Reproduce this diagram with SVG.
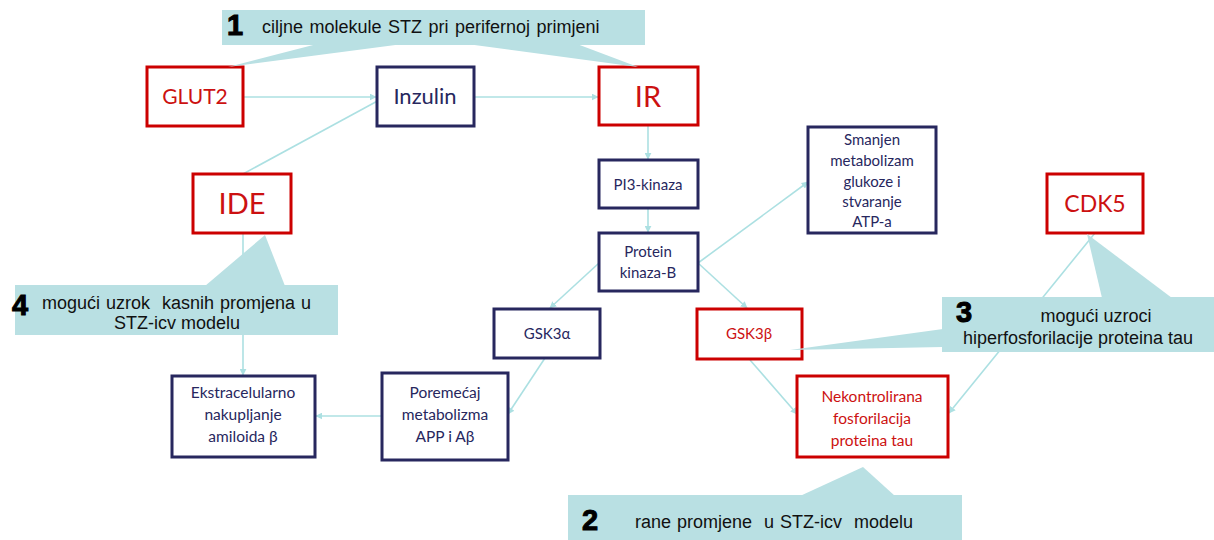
<svg xmlns="http://www.w3.org/2000/svg" width="1214" height="540" viewBox="0 0 1214 540">
<style>
.nb{fill:#fff;stroke:#27275e;stroke-width:3}
.rb{fill:#fff;stroke:#cc0000;stroke-width:3}
.nt{font-family:Lato,"Open Sans",sans-serif;fill:#27275e;text-anchor:middle}
.rt{font-family:Lato,"Open Sans",sans-serif;fill:#cc1111;text-anchor:middle}
.s{font-size:15px}
.m{font-size:15.5px}
.cl{fill:#b9e0e3}
.ct{font-family:"Liberation Sans",Arial,sans-serif;font-size:18px;fill:#111;white-space:pre}
.num{font-family:"Liberation Sans",Arial,sans-serif;font-size:29px;font-weight:900;fill:#000;stroke:#000;stroke-width:1}
.ln{fill:none;stroke:#ace0e2;stroke-width:1.6}
</style>
<defs>
<marker id="ah" viewBox="0 0 10 10" refX="9" refY="5" markerWidth="7" markerHeight="7" orient="auto" markerUnits="userSpaceOnUse">
<path d="M0,0 L10,5 L0,10 z" fill="#ace0e2"/>
</marker>
</defs>
<rect width="1214" height="540" fill="#fff"/>
<g id="connectors">
<line class="ln" x1="243" y1="97" x2="376" y2="97" marker-end="url(#ah)"/>
<line class="ln" x1="474" y1="97" x2="598" y2="97" marker-end="url(#ah)"/>
<line class="ln" x1="243" y1="174" x2="383" y2="98" marker-end="url(#ah)"/>
<line class="ln" x1="648" y1="125" x2="648" y2="159" marker-end="url(#ah)"/>
<line class="ln" x1="648" y1="208" x2="648" y2="232" marker-end="url(#ah)"/>
<line class="ln" x1="599" y1="263" x2="550" y2="308" marker-end="url(#ah)"/>
<line class="ln" x1="698" y1="263" x2="747" y2="308" marker-end="url(#ah)"/>
<line class="ln" x1="698" y1="263" x2="808" y2="182" marker-end="url(#ah)"/>
<line class="ln" x1="545" y1="358" x2="508" y2="414" marker-end="url(#ah)"/>
<line class="ln" x1="382" y1="416" x2="316" y2="416" marker-end="url(#ah)"/>
<line class="ln" x1="243" y1="233" x2="243" y2="375" marker-end="url(#ah)"/>
<line class="ln" x1="750" y1="360" x2="797" y2="414" marker-end="url(#ah)"/>
<line class="ln" x1="1095" y1="233" x2="949" y2="413" marker-end="url(#ah)"/>
</g>
<g id="GLUT2"><rect class="rb" x="147" y="67" width="96" height="59"/><text class="rt" x="195" y="104" font-size="21">GLUT2</text></g>
<g id="Inzulin"><rect class="nb" x="377" y="67" width="97" height="59"/><text class="nt" x="425" y="104" font-size="22">Inzulin</text></g>
<g id="IR"><rect class="rb" x="599" y="67" width="99" height="58"/><text class="rt" x="648" y="107" font-size="29">IR</text></g>
<g id="IDE"><rect class="rb" x="193" y="174" width="98" height="59"/><text class="rt" x="242" y="214" font-size="29">IDE</text></g>
<g id="PI3"><rect class="nb" x="599" y="160" width="99" height="48"/><text class="nt s" x="648" y="190">PI3-kinaza</text></g>
<g id="PKB"><rect class="nb" x="599" y="233" width="99" height="58"/><text class="nt s" x="648" y="257">Protein</text><text class="nt s" x="648" y="278">kinaza-B</text></g>
<g id="Smanjen"><rect class="nb" x="808" y="127" width="128" height="106"/>
<text class="nt s" x="872" y="145">Smanjen</text><text class="nt s" x="872" y="166">metabolizam</text><text class="nt s" x="872" y="187">glukoze i</text><text class="nt s" x="872" y="207">stvaranje</text><text class="nt s" x="872" y="227">ATP-a</text></g>
<g id="CDK5"><rect class="rb" x="1047" y="174" width="96" height="59"/><text class="rt" x="1095" y="212" font-size="23">CDK5</text></g>
<g id="GSK3a"><rect class="nb" x="494" y="309" width="106" height="49"/><text class="nt s" x="547" y="339">GSK3α</text></g>
<g id="GSK3b"><rect class="rb" x="697" y="309" width="105" height="50"/><text class="rt s" x="749" y="339">GSK3β</text></g>
<g id="Ekstracelularno"><rect class="nb" x="172" y="376" width="143" height="81"/>
<text class="nt m" x="243" y="398">Ekstracelularno</text><text class="nt m" x="243" y="420">nakupljanje</text><text class="nt m" x="243" y="442">amiloida β</text></g>
<g id="Poremecaj"><rect class="nb" x="382" y="373" width="126" height="87"/>
<text class="nt m" x="445" y="398">Poremećaj</text><text class="nt m" x="445" y="420">metabolizma</text><text class="nt m" x="445" y="442">APP i Aβ</text></g>
<g id="Nekontrolirana"><rect class="rb" x="797" y="376" width="151" height="81"/>
<text class="rt m" x="872" y="402">Nekontrolirana</text><text class="rt m" x="872" y="424">fosforilacija</text><text class="rt m" x="872" y="446">proteina tau</text></g>
<g id="callout1">
<rect class="cl" x="222" y="10" width="423" height="35"/>
<polygon class="cl" points="317,44 403,44 228,67"/>
<polygon class="cl" points="467,44 577,44 638,67"/>
<text class="num" x="227" y="35">1</text>
<text class="ct" x="262" y="33" word-spacing="1.5">ciljne molekule STZ pri perifernoj primjeni</text>
</g>
<g id="callout4">
<rect class="cl" x="15" y="285" width="323" height="50"/>
<polygon class="cl" points="205,286 265,235 285,286"/>
<text class="num" x="12" y="315">4</text>
<text class="ct" x="42" y="309" word-spacing="1">mogući uzrok  kasnih promjena u</text>
<text class="ct" x="177" y="329" text-anchor="middle">STZ-icv modelu</text>
</g>
<g id="callout3">
<rect class="cl" x="942" y="297" width="272" height="55"/>
<polygon class="cl" points="1087,234 1102,298 1172,298"/>
<polygon class="cl" points="790,350 943,329 943,347"/>
<text class="num" x="956" y="322">3</text>
<text class="ct" x="1096" y="322" text-anchor="middle">mogući uzroci</text>
<text class="ct" x="1078" y="344" text-anchor="middle" font-size="18.5">hiperfosforilacije proteina tau</text>
</g>
<g id="callout2">
<rect class="cl" x="568" y="495" width="394" height="45"/>
<polygon class="cl" points="800,496 863,467 895,496"/>
<text class="num" x="582" y="530">2</text>
<text class="ct" x="635" y="528" word-spacing="1">rane promjene  u STZ-icv  modelu</text>
</g>
</svg>
